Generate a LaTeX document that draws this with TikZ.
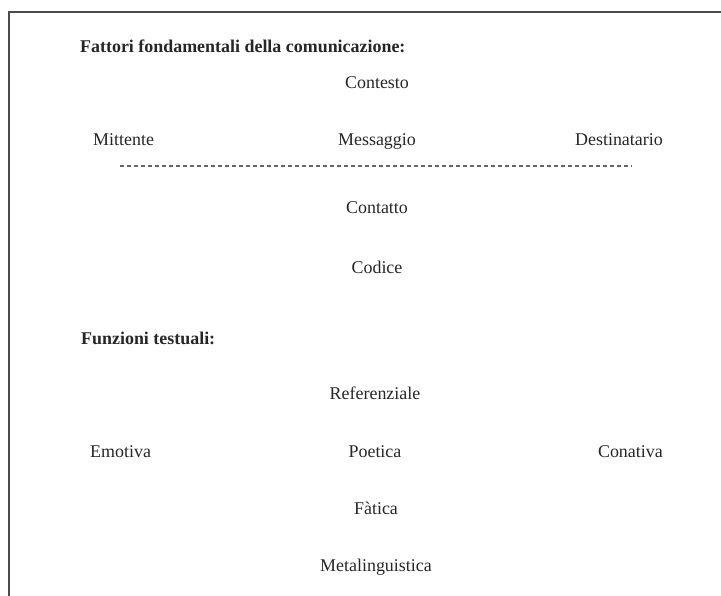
\documentclass[tikz,border=0pt]{standalone}
\usepackage{fontspec}
\setmainfont{Liberation Serif}
\begin{document}
\begin{tikzpicture}[x=1bp,y=-1bp,
  lbl/.style={inner sep=0pt,text height=12bp,text depth=0pt,font=\fontsize{18pt}{21pt}\selectfont,text=black!85},
  head/.style={lbl,font=\fontsize{18pt}{21pt}\selectfont\bfseries,anchor=west},
  frame/.style={draw=black!70,line width=1.3bp},
  dots/.style={draw=black!60,line width=1.8bp,dash pattern=on 3.5bp off 3.5bp}]
\useasboundingbox (0,0) rectangle (721,596);
% frame
\coordinate (fbl) at (9,596);
\coordinate (ftl) at (9,12);
\coordinate (ftr) at (721,12);
\draw[frame] (fbl) -- (ftl) -- (ftr);
% headings
\node[head] (h1) at (80,47) {Fattori fondamentali della comunicazione:};
\node[head] (h2) at (81,338) {Funzioni testuali:};
% factors
\node[lbl] (contesto) at (377,83) {Contesto};
\node[lbl,anchor=west] (mittente) at (93,140) {Mittente};
\node[lbl] (messaggio) at (377,140) {Messaggio};
\node[lbl,anchor=east] (destinatario) at (663,140) {Destinatario};
\coordinate (dl) at (120,166);
\coordinate (dr) at (632,166);
\draw[dots] (dl) -- (dr);
\node[lbl] (contatto) at (377,208) {Contatto};
\node[lbl] (codice) at (377,267) {Codice};
% functions
\node[lbl] (referenziale) at (375,393) {Referenziale};
\node[lbl,anchor=west] (emotiva) at (90,451) {Emotiva};
\node[lbl] (poetica) at (375,451) {Poetica};
\node[lbl,anchor=east] (conativa) at (663,451) {Conativa};
\node[lbl] (fatica) at (376,508) {Fàtica};
\node[lbl] (metaling) at (376,565) {Metalinguistica};
\end{tikzpicture}
\end{document}
